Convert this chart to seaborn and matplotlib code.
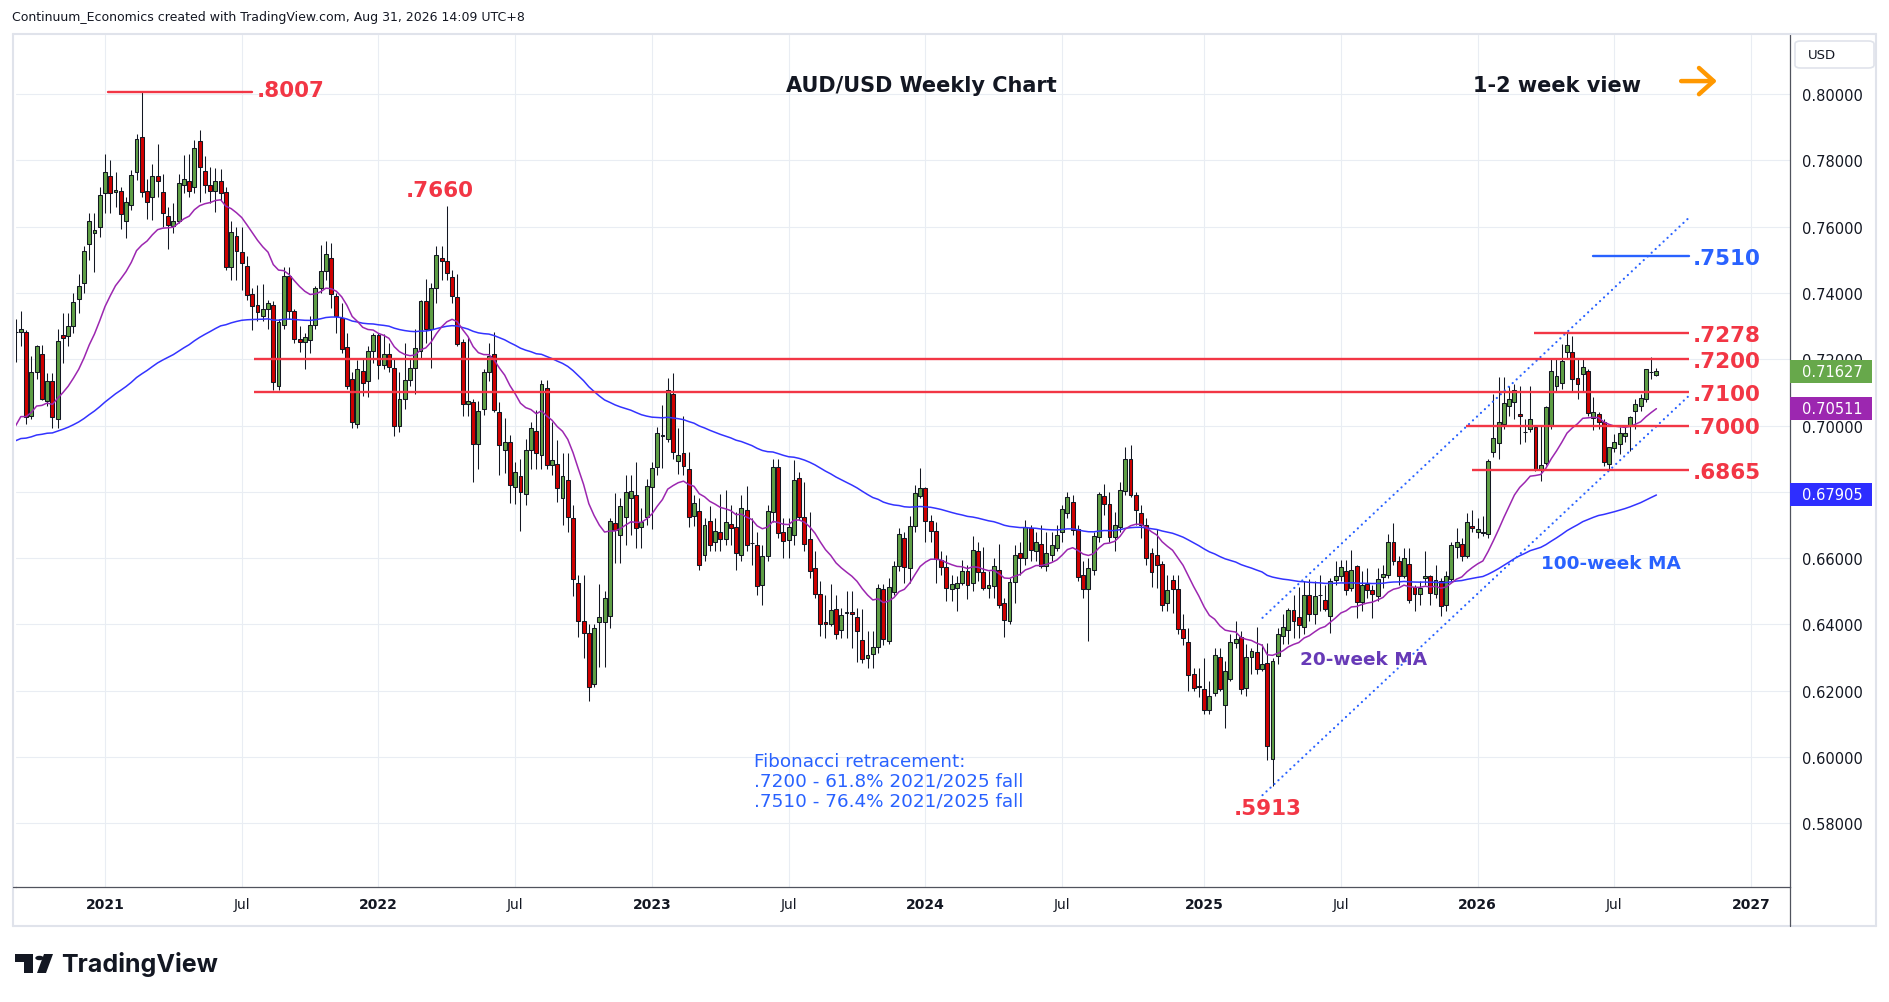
import numpy as np
import pandas as pd
import matplotlib
matplotlib.use("Agg")
import matplotlib.pyplot as plt
from matplotlib.patches import Rectangle, FancyBboxPatch, Polygon, Circle, FancyArrowPatch
from matplotlib.lines import Line2D
from matplotlib.transforms import blended_transform_factory
import seaborn as sns

# ---------------------------------------------------------------------------
# AUD/USD weekly candles, first bar = week of 7 Sep 2020, last = 31 Aug 2026
# ---------------------------------------------------------------------------
first_week = "2020-09-07"

opens = [
    # 2020
    0.7282, 0.7283, 0.7281, 0.7029, 0.7161, 0.7216, 0.7075, 0.7135, 0.7020, 0.7273, 0.7271, 0.7299, 0.7382, 0.7430, 0.7548, 0.7581, 0.7598,
    # 2021
    0.7701, 0.7752, 0.7705, 0.7708, 0.7616, 0.7665, 0.7764, 0.7869, 0.7708, 0.7688, 0.7752, 0.7703, 0.7631, 0.7601, 0.7616, 0.7726, 0.7737, 0.7718,
    0.7857, 0.7767, 0.7726, 0.7706, 0.7737, 0.7703, 0.7479, 0.7571, 0.7522, 0.7480, 0.7397, 0.7365, 0.7329, 0.7351, 0.7365, 0.7118, 0.7303, 0.7450,
    0.7346, 0.7261, 0.7251, 0.7258, 0.7304, 0.7414, 0.7465, 0.7505, 0.7390, 0.7324, 0.7237, 0.7141, 0.7004, 0.7164, 0.7133, 0.7226,
    # 2022
    0.7272, 0.7182, 0.7216, 0.7174, 0.6999, 0.7079, 0.7136, 0.7174, 0.7226, 0.7375, 0.7291, 0.7414, 0.7505, 0.7497, 0.7448, 0.7389, 0.7251, 0.7064,
    0.7071, 0.6944, 0.7050, 0.7160, 0.7216, 0.7040, 0.6925, 0.6950, 0.6816, 0.6847, 0.6792, 0.6927, 0.6984, 0.6912, 0.7113, 0.6882, 0.6883, 0.6782,
    0.6835, 0.6720, 0.6524, 0.6409, 0.6375, 0.6220, 0.6406, 0.6406, 0.6424, 0.6706, 0.6670, 0.6725, 0.6780, 0.6790, 0.6695, 0.6725,
    # 2023
    0.6814, 0.6874, 0.6968, 0.6960, 0.7096, 0.6892, 0.6916, 0.6869, 0.6728, 0.6741, 0.6610, 0.6711, 0.6649, 0.6678, 0.6659, 0.6703, 0.6693, 0.6610,
    0.6746, 0.6645, 0.6641, 0.6519, 0.6605, 0.6738, 0.6874, 0.6678, 0.6655, 0.6670, 0.6842, 0.6725, 0.6657, 0.6570, 0.6493, 0.6406, 0.6401, 0.6448,
    0.6383, 0.6434, 0.6438, 0.6421, 0.6353, 0.6300, 0.6312, 0.6333, 0.6506, 0.6349, 0.6499, 0.6575, 0.6662, 0.6570, 0.6696, 0.6788,
    # 2024
    0.6811, 0.6713, 0.6683, 0.6595, 0.6572, 0.6508, 0.6511, 0.6524, 0.6562, 0.6526, 0.6622, 0.6557, 0.6511, 0.6516, 0.6565, 0.6464, 0.6410, 0.6529,
    0.6614, 0.6599, 0.6691, 0.6622, 0.6644, 0.6577, 0.6609, 0.6632, 0.6678, 0.6735, 0.6769, 0.6688, 0.6548, 0.6508, 0.6565, 0.6663, 0.6787, 0.6762,
    0.6663, 0.6695, 0.6802, 0.6898, 0.6791, 0.6735, 0.6701, 0.6615, 0.6609, 0.6582, 0.6466, 0.6534, 0.6508, 0.6387, 0.6348, 0.6251, 0.6214,
    # 2025
    0.6206, 0.6143, 0.6193, 0.6302, 0.6158, 0.6234, 0.6345, 0.6363, 0.6209, 0.6302, 0.6317, 0.6264, 0.6284, 0.5994, 0.6304, 0.6365, 0.6382, 0.6443,
    0.6423, 0.6393, 0.6489, 0.6430, 0.6488, 0.6473, 0.6425, 0.6533, 0.6546, 0.6560, 0.6510, 0.6576, 0.6467, 0.6522, 0.6505, 0.6486, 0.6543, 0.6550,
    0.6649, 0.6590, 0.6546, 0.6582, 0.6513, 0.6491, 0.6540, 0.6546, 0.6493, 0.6530, 0.6460, 0.6538, 0.6634, 0.6643, 0.6607, 0.6696,
    # 2026
    0.6678, 0.6680, 0.6673, 0.6919, 0.6947, 0.7005, 0.7058, 0.7072, 0.7035, 0.6980, 0.6990, 0.6995, 0.6866, 0.6887, 0.6999, 0.7120, 0.7128, 0.7221,
    0.7221, 0.7142, 0.7155, 0.7165, 0.7022, 0.7035, 0.7012, 0.6884, 0.6931, 0.6944, 0.6967, 0.6998, 0.7045, 0.7060, 0.7080, 0.7162, 0.7152,
]

highs = [
    # 2020
    0.7320, 0.7345, 0.7288, 0.7209, 0.7243, 0.7243, 0.7158, 0.7158, 0.7291, 0.7340, 0.7340, 0.7400, 0.7456, 0.7540, 0.7640, 0.7640, 0.7720,
    # 2021
    0.7820, 0.7800, 0.7765, 0.7720, 0.7690, 0.7770, 0.7880, 0.8007, 0.7744, 0.7790, 0.7849, 0.7760, 0.7660, 0.7670, 0.7760, 0.7816, 0.7820, 0.7860,
    0.7891, 0.7813, 0.7780, 0.7777, 0.7775, 0.7720, 0.7617, 0.7600, 0.7600, 0.7510, 0.7415, 0.7425, 0.7427, 0.7380, 0.7375, 0.7320, 0.7478, 0.7478,
    0.7350, 0.7300, 0.7280, 0.7330, 0.7420, 0.7546, 0.7556, 0.7550, 0.7400, 0.7370, 0.7280, 0.7160, 0.7197, 0.7200, 0.7240, 0.7278,
    # 2022
    0.7278, 0.7277, 0.7250, 0.7200, 0.7160, 0.7250, 0.7200, 0.7290, 0.7380, 0.7441, 0.7430, 0.7540, 0.7540, 0.7661, 0.7470, 0.7458, 0.7260, 0.7266,
    0.7080, 0.7075, 0.7170, 0.7250, 0.7283, 0.7070, 0.7022, 0.6970, 0.6890, 0.6900, 0.6960, 0.7010, 0.7048, 0.7137, 0.7137, 0.7010, 0.6955, 0.6917,
    0.6916, 0.6760, 0.6550, 0.6548, 0.6400, 0.6400, 0.6522, 0.6500, 0.6720, 0.6797, 0.6782, 0.6850, 0.6850, 0.6890, 0.6750, 0.6840,
    # 2023
    0.6890, 0.6995, 0.7063, 0.7142, 0.7158, 0.6993, 0.7030, 0.6920, 0.6790, 0.6780, 0.6720, 0.6758, 0.6720, 0.6793, 0.6806, 0.6760, 0.6740, 0.6790,
    0.6818, 0.6720, 0.6680, 0.6640, 0.6760, 0.6900, 0.6900, 0.6720, 0.6720, 0.6895, 0.6860, 0.6830, 0.6740, 0.6620, 0.6530, 0.6490, 0.6522, 0.6490,
    0.6450, 0.6500, 0.6500, 0.6450, 0.6445, 0.6380, 0.6380, 0.6522, 0.6523, 0.6540, 0.6590, 0.6690, 0.6679, 0.6728, 0.6820, 0.6871,
    # 2024
    0.6815, 0.6730, 0.6710, 0.6620, 0.6610, 0.6550, 0.6545, 0.6595, 0.6580, 0.6668, 0.6650, 0.6634, 0.6560, 0.6600, 0.6644, 0.6480, 0.6540, 0.6640,
    0.6648, 0.6714, 0.6700, 0.6680, 0.6700, 0.6680, 0.6680, 0.6700, 0.6760, 0.6798, 0.6790, 0.6700, 0.6590, 0.6600, 0.6680, 0.6798, 0.6823, 0.6800,
    0.6740, 0.6830, 0.6935, 0.6942, 0.6800, 0.6760, 0.6720, 0.6630, 0.6688, 0.6590, 0.6550, 0.6550, 0.6550, 0.6430, 0.6390, 0.6270, 0.6270,
    # 2025
    0.6300, 0.6230, 0.6330, 0.6330, 0.6290, 0.6370, 0.6409, 0.6380, 0.6340, 0.6330, 0.6391, 0.6340, 0.6345, 0.6300, 0.6390, 0.6430, 0.6450, 0.6490,
    0.6514, 0.6530, 0.6537, 0.6530, 0.6550, 0.6520, 0.6540, 0.6590, 0.6595, 0.6595, 0.6625, 0.6580, 0.6560, 0.6570, 0.6520, 0.6570, 0.6580, 0.6672,
    0.6707, 0.6605, 0.6630, 0.6630, 0.6520, 0.6530, 0.6620, 0.6550, 0.6580, 0.6540, 0.6560, 0.6650, 0.6690, 0.6660, 0.6735, 0.6745,
    # 2026
    0.6720, 0.6728, 0.6900, 0.7095, 0.7145, 0.7145, 0.7120, 0.7125, 0.7120, 0.7020, 0.7120, 0.7000, 0.7000, 0.7060, 0.7205, 0.7200, 0.7246, 0.7278,
    0.7271, 0.7200, 0.7200, 0.7170, 0.7085, 0.7040, 0.7020, 0.6934, 0.6975, 0.6995, 0.7000, 0.7030, 0.7080, 0.7095, 0.7170, 0.7206, 0.7172,
]

lows = [
    # 2020
    0.7191, 0.7240, 0.7006, 0.7021, 0.7140, 0.7078, 0.7060, 0.6991, 0.6991, 0.7190, 0.7240, 0.7280, 0.7340, 0.7400, 0.7500, 0.7463, 0.7570,
    # 2021
    0.7640, 0.7640, 0.7660, 0.7592, 0.7565, 0.7650, 0.7740, 0.7690, 0.7622, 0.7620, 0.7690, 0.7600, 0.7531, 0.7580, 0.7610, 0.7700, 0.7690, 0.7700,
    0.7675, 0.7700, 0.7670, 0.7645, 0.7680, 0.7470, 0.7440, 0.7440, 0.7410, 0.7380, 0.7288, 0.7315, 0.7315, 0.7290, 0.7106, 0.7106, 0.7290, 0.7320,
    0.7250, 0.7223, 0.7170, 0.7220, 0.7290, 0.7400, 0.7440, 0.7355, 0.7280, 0.7220, 0.7110, 0.6993, 0.6993, 0.7090, 0.7085, 0.7190,
    # 2022
    0.7140, 0.7170, 0.7160, 0.6967, 0.6980, 0.7050, 0.7120, 0.7094, 0.7200, 0.7250, 0.7172, 0.7370, 0.7440, 0.7440, 0.7370, 0.7240, 0.7030, 0.7030,
    0.6829, 0.6870, 0.7033, 0.7133, 0.7040, 0.6850, 0.6857, 0.6765, 0.6762, 0.6681, 0.6760, 0.6870, 0.6870, 0.6870, 0.6870, 0.6850, 0.6770, 0.6700,
    0.6680, 0.6487, 0.6363, 0.6300, 0.6170, 0.6210, 0.6272, 0.6272, 0.6390, 0.6586, 0.6585, 0.6640, 0.6670, 0.6630, 0.6630, 0.6700,
    # 2023
    0.6688, 0.6850, 0.6872, 0.6950, 0.6900, 0.6855, 0.6850, 0.6695, 0.6697, 0.6565, 0.6590, 0.6620, 0.6620, 0.6620, 0.6640, 0.6640, 0.6563, 0.6590,
    0.6620, 0.6580, 0.6490, 0.6458, 0.6590, 0.6710, 0.6660, 0.6600, 0.6600, 0.6640, 0.6716, 0.6620, 0.6540, 0.6480, 0.6365, 0.6360, 0.6395, 0.6357,
    0.6360, 0.6360, 0.6330, 0.6286, 0.6285, 0.6270, 0.6270, 0.6315, 0.6339, 0.6340, 0.6490, 0.6560, 0.6525, 0.6525, 0.6680, 0.6780,
    # 2024
    0.6650, 0.6650, 0.6525, 0.6550, 0.6470, 0.6470, 0.6440, 0.6520, 0.6478, 0.6500, 0.6530, 0.6505, 0.6480, 0.6480, 0.6450, 0.6362, 0.6400, 0.6465,
    0.6550, 0.6580, 0.6590, 0.6590, 0.6570, 0.6560, 0.6590, 0.6620, 0.6650, 0.6720, 0.6670, 0.6530, 0.6480, 0.6349, 0.6550, 0.6650, 0.6730, 0.6650,
    0.6620, 0.6680, 0.6790, 0.6785, 0.6700, 0.6660, 0.6580, 0.6512, 0.6510, 0.6440, 0.6440, 0.6435, 0.6370, 0.6338, 0.6198, 0.6200, 0.6180,
    # 2025
    0.6130, 0.6130, 0.6185, 0.6200, 0.6088, 0.6230, 0.6330, 0.6190, 0.6185, 0.6250, 0.6250, 0.6260, 0.5990, 0.5913, 0.6280, 0.6340, 0.6340, 0.6360,
    0.6360, 0.6370, 0.6410, 0.6400, 0.6440, 0.6440, 0.6375, 0.6520, 0.6530, 0.6490, 0.6500, 0.6420, 0.6440, 0.6480, 0.6420, 0.6470, 0.6510, 0.6540,
    0.6580, 0.6520, 0.6540, 0.6465, 0.6440, 0.6460, 0.6520, 0.6460, 0.6480, 0.6425, 0.6440, 0.6530, 0.6600, 0.6590, 0.6600, 0.6680,
    # 2026
    0.6660, 0.6667, 0.6660, 0.6904, 0.6899, 0.6989, 0.7030, 0.7020, 0.6944, 0.6949, 0.6979, 0.6864, 0.6834, 0.6880, 0.6989, 0.7100, 0.7110, 0.7200,
    0.7105, 0.7080, 0.7100, 0.7030, 0.6985, 0.6990, 0.6879, 0.6868, 0.6920, 0.6914, 0.6950, 0.6924, 0.6990, 0.7045, 0.7070, 0.7140, 0.7150,
]

closes = [
    # 2020
    0.7283, 0.7292, 0.7026, 0.7160, 0.7241, 0.7080, 0.7135, 0.7025, 0.7256, 0.7263, 0.7301, 0.7374, 0.7422, 0.7527, 0.7618, 0.7591, 0.7696,
    # 2021
    0.7764, 0.7701, 0.7710, 0.7638, 0.7673, 0.7757, 0.7864, 0.7703, 0.7673, 0.7752, 0.7739, 0.7640, 0.7606, 0.7616, 0.7731, 0.7744, 0.7706, 0.7836,
    0.7779, 0.7726, 0.7706, 0.7737, 0.7701, 0.7477, 0.7585, 0.7525, 0.7490, 0.7394, 0.7360, 0.7341, 0.7351, 0.7369, 0.7130, 0.7311, 0.7450, 0.7346,
    0.7261, 0.7253, 0.7266, 0.7304, 0.7414, 0.7465, 0.7517, 0.7397, 0.7331, 0.7232, 0.7118, 0.7010, 0.7171, 0.7128, 0.7226, 0.7272,
    # 2022
    0.7182, 0.7216, 0.7177, 0.6999, 0.7079, 0.7136, 0.7174, 0.7234, 0.7375, 0.7291, 0.7414, 0.7515, 0.7497, 0.7459, 0.7392, 0.7246, 0.7064, 0.7074,
    0.6944, 0.7045, 0.7160, 0.7210, 0.7046, 0.6942, 0.6950, 0.6821, 0.6859, 0.6799, 0.6927, 0.6992, 0.6916, 0.7126, 0.6882, 0.6896, 0.6813, 0.6849,
    0.6725, 0.6538, 0.6409, 0.6375, 0.6211, 0.6390, 0.6422, 0.6481, 0.6711, 0.6684, 0.6758, 0.6800, 0.6803, 0.6692, 0.6708, 0.6818,
    # 2023
    0.6872, 0.6978, 0.6970, 0.7106, 0.6919, 0.6912, 0.6877, 0.6725, 0.6765, 0.6580, 0.6700, 0.6640, 0.6683, 0.6659, 0.6708, 0.6691, 0.6614, 0.6750,
    0.6639, 0.6647, 0.6516, 0.6605, 0.6741, 0.6874, 0.6675, 0.6652, 0.6693, 0.6836, 0.6725, 0.6644, 0.6562, 0.6493, 0.6401, 0.6401, 0.6444, 0.6372,
    0.6428, 0.6436, 0.6430, 0.6380, 0.6295, 0.6309, 0.6333, 0.6511, 0.6357, 0.6514, 0.6577, 0.6673, 0.6572, 0.6698, 0.6795, 0.6811,
    # 2024
    0.6711, 0.6681, 0.6597, 0.6572, 0.6511, 0.6521, 0.6526, 0.6562, 0.6518, 0.6625, 0.6559, 0.6511, 0.6520, 0.6575, 0.6458, 0.6413, 0.6529, 0.6609,
    0.6599, 0.6693, 0.6625, 0.6650, 0.6577, 0.6614, 0.6639, 0.6670, 0.6748, 0.6784, 0.6685, 0.6544, 0.6508, 0.6569, 0.6666, 0.6794, 0.6764, 0.6665,
    0.6701, 0.6806, 0.6898, 0.6791, 0.6746, 0.6701, 0.6599, 0.6557, 0.6579, 0.6458, 0.6505, 0.6508, 0.6387, 0.6360, 0.6246, 0.6209, 0.6211,
    # 2025
    0.6143, 0.6183, 0.6307, 0.6206, 0.6259, 0.6348, 0.6355, 0.6204, 0.6302, 0.6319, 0.6266, 0.6281, 0.6034, 0.6289, 0.6372, 0.6393, 0.6443, 0.6410,
    0.6399, 0.6489, 0.6432, 0.6486, 0.6489, 0.6447, 0.6530, 0.6546, 0.6573, 0.6505, 0.6563, 0.6467, 0.6518, 0.6505, 0.6493, 0.6538, 0.6551, 0.6649,
    0.6590, 0.6546, 0.6600, 0.6473, 0.6491, 0.6511, 0.6545, 0.6495, 0.6533, 0.6455, 0.6546, 0.6639, 0.6649, 0.6607, 0.6709, 0.6691,
    # 2026
    0.6687, 0.6675, 0.6892, 0.6962, 0.7010, 0.7067, 0.7080, 0.7108, 0.7030, 0.6979, 0.7020, 0.6869, 0.6881, 0.7055, 0.7165, 0.7148, 0.7196, 0.7243,
    0.7140, 0.7125, 0.7178, 0.7037, 0.7042, 0.7010, 0.6889, 0.6934, 0.6949, 0.6977, 0.6977, 0.7025, 0.7065, 0.7082, 0.7170, 0.7160, 0.7163,
]

# moving averages as shown at the first visible bar, and axis tags
ema20_start = 0.6999
ema100_start = 0.6954
last_price = 0.71627
ma20_last = 0.70511
ma100_last = 0.67905

levels = [0.7278, 0.7200, 0.7100, 0.7000, 0.6865]
level_labels = [".7278", ".7200", ".7100", ".7000", ".6865"]
target_level = 0.7510
peak_2021 = 0.8007
peak_2022 = 0.7660
low_2025 = 0.5913
price_ticks = [0.58, 0.60, 0.62, 0.64, 0.66, 0.68, 0.70, 0.72, 0.74, 0.76, 0.78, 0.80]
fib_text = ["Fibonacci retracement:",
            ".7200 - 61.8% 2021/2025 fall",
            ".7510 - 76.4% 2021/2025 fall"]

# ---------------------------------------------------------------------------
# layout (pixels of the 1889x1003 canvas, bar-index anchors for drawings)
# ---------------------------------------------------------------------------
W, H = 1889, 1003
AX_L, AX_R, AX_T, AX_B = 16, 1790, 36, 888
X0, X1 = 0.08, 337.4
Y0, Y1 = 0.56079, 0.81780

GREEN = "#5f9f45"
RED = "#cf0000"
INK = "#131722"
LEVEL_RED = "#f23645"
TV_BLUE = "#2962ff"
PURPLE = "#9c27b0"
MA_BLUE = "#3333ff"
LABEL_PURPLE = "#673ab7"
GRID = "#e9edf3"


def fx(px):
    return px / W


def fy(py):
    return 1 - py / H


sns.set_style("white")
plt.rcParams["font.family"] = ["DejaVu Sans"]

fig = plt.figure(figsize=(W / 100, H / 100), dpi=100)
fig.patch.set_facecolor("white")
ax = fig.add_axes([fx(AX_L), fy(AX_B), (AX_R - AX_L) / W, (AX_B - AX_T) / H])

n = min(len(opens), len(highs), len(lows), len(closes))
x = np.arange(n)
o = np.array(opens[:n])
c = np.array(closes[:n])
hi = np.maximum(np.array(highs[:n]), np.maximum(o, c))
lo = np.minimum(np.array(lows[:n]), np.minimum(o, c))
up = c >= o

# candles
ax.vlines(x, lo, hi, color=INK, linewidth=0.75, zorder=3)
ax.bar(x, np.maximum(np.abs(c - o), 0.00006), bottom=np.minimum(o, c), width=0.74,
       color=np.where(up, GREEN, RED), edgecolor=INK, linewidth=0.75, zorder=3.5)

# 20 / 100 week moving averages (exponential)
ma = pd.DataFrame({
    "bar": x,
    "ema20": pd.Series([ema20_start] + list(c[1:])).ewm(alpha=2 / 21, adjust=False).mean(),
    "ema100": pd.Series([ema100_start] + list(c[1:])).ewm(alpha=2 / 101, adjust=False).mean(),
})
sns.lineplot(data=ma, x="bar", y="ema100", color=MA_BLUE, linewidth=1.1, ax=ax, zorder=4)
sns.lineplot(data=ma, x="bar", y="ema20", color=PURPLE, linewidth=1.1, ax=ax, zorder=4)

# horizontal levels
level_x0 = [288.8, 45.4, 45.4, 275.7, 276.9]
LINE_END = 318.2
LABEL_X = 319.0
for lv, lab, xs in zip(levels, level_labels, level_x0):
    ax.plot([xs, LINE_END], [lv, lv], color=LEVEL_RED, lw=1.7, zorder=5, solid_capstyle="butt")
    ax.text(LABEL_X, lv - 0.0024, lab, color=LEVEL_RED, fontsize=15.5, fontweight="bold",
            ha="left", va="baseline", zorder=6)
ax.plot([299.9, LINE_END], [target_level, target_level], color=TV_BLUE, lw=1.7, zorder=5)
ax.text(LABEL_X, target_level - 0.0024, ".7510", color=TV_BLUE, fontsize=15.5, fontweight="bold",
        ha="left", va="baseline", zorder=6)

ax.plot([17.6, 44.9], [peak_2021, peak_2021], color=LEVEL_RED, lw=1.7, zorder=5)
ax.text(45.9, 0.7994, ".8007", color=LEVEL_RED, fontsize=15.5, fontweight="bold",
        ha="left", va="baseline", zorder=6)
ax.text(80.7, 0.7692, ".7660", color=LEVEL_RED, fontsize=15.5, fontweight="bold",
        ha="center", va="baseline", zorder=6)
ax.text(238.1, 0.5828, ".5913", color=LEVEL_RED, fontsize=15.5, fontweight="bold",
        ha="center", va="baseline", zorder=6)

# rising channel (dotted)
for y_a, y_b in [(0.6420, 0.7627), (0.5885, 0.7090)]:
    ax.plot([237.1, 318.2], [y_a, y_b], color=TV_BLUE, lw=1.6, ls=(0, (0.05, 2.4)),
            dash_capstyle="round", zorder=4.5)

# annotations
ax.text(172.2, 0.8010, "AUD/USD Weekly Chart", color=INK, fontsize=15, fontweight="bold",
        ha="center", va="baseline", zorder=6)
ax.text(293.1, 0.8010, "1-2 week view", color=INK, fontsize=15, fontweight="bold",
        ha="center", va="baseline", zorder=6)
ax.add_patch(FancyArrowPatch((316.7, 0.8039), (323.5, 0.8039),
                             arrowstyle="->,head_length=0.5,head_width=0.45", mutation_scale=21,
                             lw=3.2, color="#ff9800", capstyle="round", joinstyle="round",
                             shrinkA=0, shrinkB=0, zorder=6))
ax.text(256.3, 0.6282, "20-week MA", color=LABEL_PURPLE, fontsize=13.3, fontweight="bold",
        ha="center", va="baseline", zorder=6)
ax.text(303.4, 0.6571, "100-week MA", color=TV_BLUE, fontsize=13.3, fontweight="bold",
        ha="center", va="baseline", zorder=6)
for line, yb in zip(fib_text, [0.5974, 0.5914, 0.5853]):
    ax.text(140.4, yb, line, color=TV_BLUE, fontsize=13.2, ha="left", va="baseline", zorder=6)

# axes, ticks and grid
dates = pd.date_range(first_week, periods=int(X1) + 3, freq="7D")
grid_idx, grid_lab = [], []
for i in range(1, len(dates)):
    if dates[i].month != dates[i - 1].month and dates[i].month in (1, 7):
        grid_idx.append(i)
        grid_lab.append(str(dates[i].year) if dates[i].month == 1 else "Jul")

ax.set_xlim(X0, X1)
ax.set_ylim(Y0, Y1)
ax.set_xlabel("")
ax.set_ylabel("")
ax.set_xticks(grid_idx, grid_lab)
ax.set_yticks(price_ticks, [f"{v:.5f}" for v in price_ticks])
ax.yaxis.tick_right()
ax.grid(True, color=GRID, lw=0.8)
ax.set_axisbelow(True)
ax.tick_params(axis="both", length=0, colors=INK)
ax.tick_params(axis="y", pad=8.6, labelsize=10.5)
ax.tick_params(axis="x", pad=7, labelsize=10)
for t in ax.get_xticklabels():
    if t.get_text() != "Jul":
        t.set_fontweight("bold")
for s in ["top", "left"]:
    ax.spines[s].set_visible(False)
for s in ["bottom", "right"]:
    ax.spines[s].set_color("#50535e")
    ax.spines[s].set_linewidth(0.9)

# price tags on the scale (they cover the 0.72 and 0.70 labels as in TradingView)
trans = blended_transform_factory(ax.transAxes, ax.transData)
tag_h = 23 / (AX_B - AX_T) * (Y1 - Y0)
tag_w = (1872 - AX_R) / (AX_R - AX_L)
for val, col in [(last_price, "#67a84b"), (ma20_last, PURPLE), (ma100_last, "#2e2eff")]:
    ax.add_patch(Rectangle((1.0, val - tag_h / 2), tag_w, tag_h, transform=trans,
                           facecolor=col, edgecolor="none", clip_on=False, zorder=10))
    ax.text((1802 - AX_L) / (AX_R - AX_L), val, f"{val:.5f}", transform=trans, color="white",
            fontsize=10.5, ha="left", va="center", clip_on=False, zorder=11)

# panel frame, header, currency box, logo
frame = "#e0e3eb"
for (xa, ya, xb, yb) in [(13, 35, 1876, 35), (13, 927, 1876, 927), (13, 35, 13, 927), (1876, 35, 1876, 927)]:
    fig.add_artist(Line2D([fx(xa), fx(xb)], [fy(ya), fy(yb)], color=frame, lw=1.5))
fig.add_artist(Line2D([fx(AX_R), fx(AX_R)], [fy(AX_B), fy(927)], color="#50535e", lw=0.9))
fig.add_artist(Line2D([fx(13), fx(AX_L)], [fy(AX_B), fy(AX_B)], color="#50535e", lw=0.9))

fig.text(fx(12), fy(18), "Continuum_Economics created with TradingView.com, Aug 31, 2026 14:09 UTC+8",
         fontsize=9.0, color=INK, ha="left", va="center")

fig.add_artist(FancyBboxPatch((fx(1795), fy(69)), fx(1874) - fx(1795), fy(42) - fy(69),
                              boxstyle="round,pad=0,rounding_size=0.003", facecolor="white",
                              edgecolor=frame, lw=1.2, transform=fig.transFigure))
fig.text(fx(1808), fy(55.5), "USD", fontsize=9.5, color=INK, ha="left", va="center")

logo = INK
fig.add_artist(Rectangle((fx(15), fy(963)), fx(33) - fx(15), fy(955) - fy(963), facecolor=logo,
                         edgecolor="none", transform=fig.transFigure))
fig.add_artist(Rectangle((fx(24), fy(974)), fx(33) - fx(24), fy(955) - fy(974), facecolor=logo,
                         edgecolor="none", transform=fig.transFigure))
fig.add_artist(Circle((fx(39.5), fy(959)), 4.2 / W, facecolor=logo, edgecolor="none",
                      transform=fig.transFigure))
fig.add_artist(Polygon([(fx(44), fy(955)), (fx(53), fy(955)), (fx(46), fy(974)), (fx(37), fy(974))],
                       closed=True, facecolor=logo, edgecolor="none", transform=fig.transFigure))
fig.text(fx(61), fy(965), "TradingView", fontsize=18, fontweight="bold", color=logo,
         family=["Inter", "DejaVu Sans"], ha="left", va="center")

fig.savefig("out.png", dpi=100, facecolor="white")
